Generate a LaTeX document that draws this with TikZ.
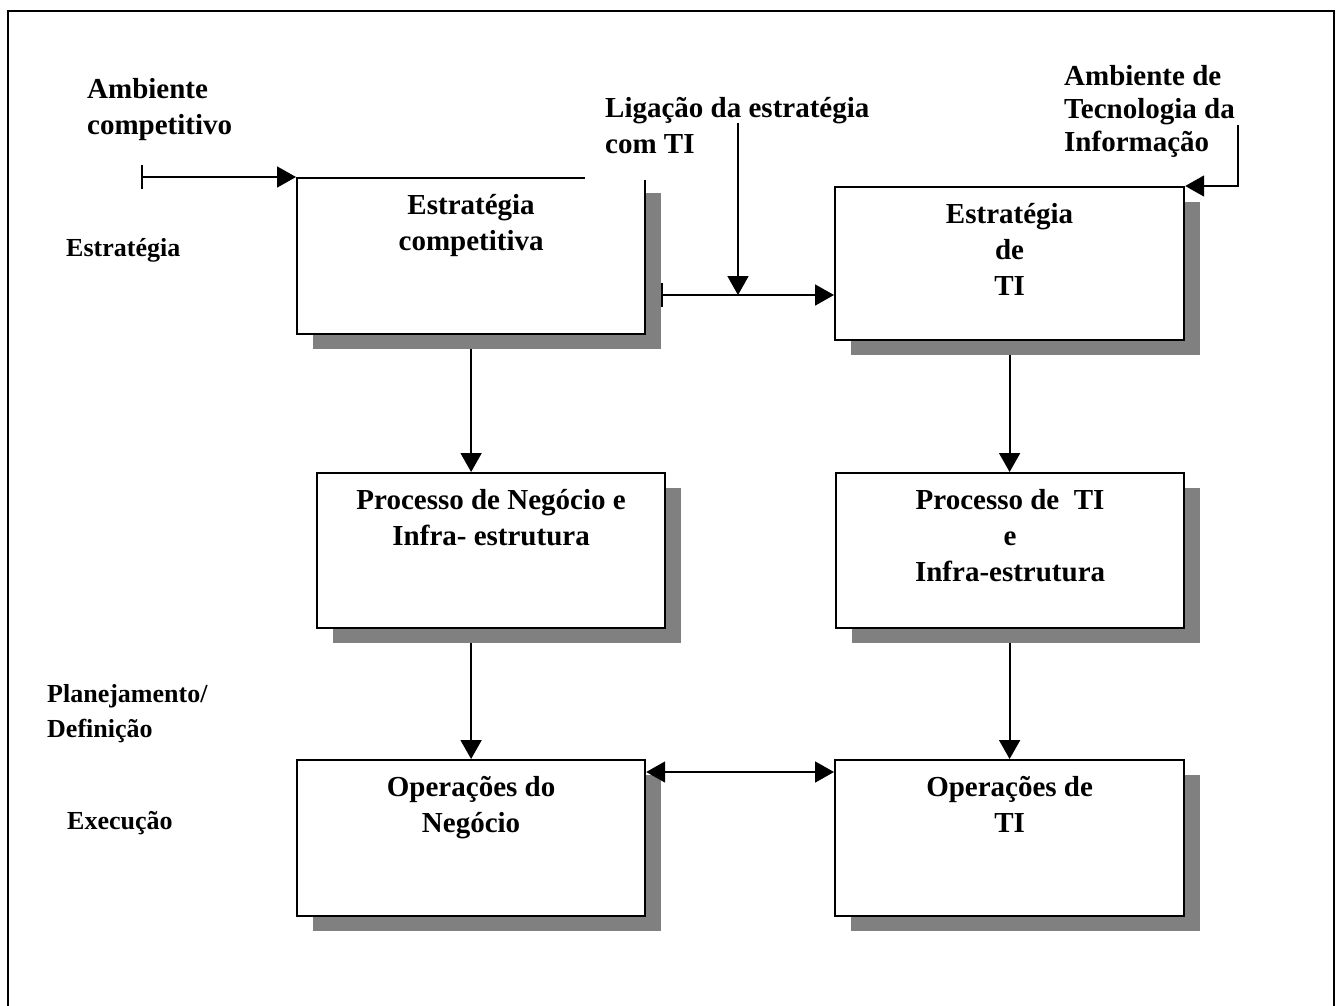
\documentclass[tikz,border=0pt]{standalone}
\usepackage{fontspec}
\setmainfont{Liberation Serif}
\usetikzlibrary{arrows.meta}
\begin{document}
\begin{tikzpicture}[x=1pt,y=-1pt,
  boxst/.style={draw=black, line width=2.2pt, fill=white, minimum width=348pt, minimum height=156pt, inner sep=0pt, anchor=north west},
  shad/.style={fill=black!50, draw=none, minimum width=348pt, minimum height=156pt, inner sep=0pt, anchor=north west},
  big/.style={font=\bfseries\fontsize{29}{36}\selectfont, inner sep=0pt, align=center, anchor=north},
  toplbl/.style={font=\bfseries\fontsize{29}{36}\selectfont, inner sep=0pt, align=left, anchor=north west},
  side/.style={font=\bfseries\fontsize{26}{35}\selectfont, inner sep=0pt, align=left},
  conn/.style={line width=1.8pt, -{Triangle[length=19pt,width=21pt]}},
  barconn/.style={line width=1.8pt, {Bar[width=24pt]}-{Triangle[length=19pt,width=21pt]}},
  dblconn/.style={line width=1.8pt, {Triangle[length=19pt,width=21pt]}-{Triangle[length=19pt,width=21pt]}},
]
\useasboundingbox (0,0) rectangle (1344,1005);
% outer frame
\draw[line width=1.6pt] (8,1010) -- (8,11) -- (1334,11) -- (1334,1010);

% shadows
\node[shad] (s1) at (313,193) {};
\node[shad, minimum width=349pt, minimum height=153pt] (s2) at (851,202) {};
\node[shad, minimum height=155pt] (s3) at (333,488) {};
\node[shad, minimum height=155pt] (s4) at (852,488) {};
\node[shad] (s5) at (313,775) {};
\node[shad, minimum width=349pt] (s6) at (851,775) {};

% boxes
\node[boxst] (b1) at (296,177) {};
\node[boxst, minimum width=349pt, minimum height=153pt] (b2) at (834,186) {};
\node[boxst, minimum height=155pt] (b3) at (316,472) {};
\node[boxst, minimum height=155pt] (b4) at (835,472) {};
\node[boxst] (b5) at (296,759) {};
\node[boxst, minimum width=349pt] (b6) at (834,759) {};

% white text-box area of the "Ligacao" label hiding the corner of box 1
\node[fill=white, inner sep=0pt, minimum width=140pt, minimum height=120pt, anchor=south west] (mask) at (585,180.5) {};

% box texts
\node[big] (t1) at ([yshift=-15pt]b1.north) {\rule{0pt}{22pt}Estratégia\\competitiva};
\node[big] (t2) at ([yshift=-15pt]b2.north) {\rule{0pt}{22pt}Estratégia\\de\\TI};
\node[big] (t3) at ([yshift=-15pt]b3.north) {\rule{0pt}{22pt}Processo de Negócio e\\Infra- estrutura};
\node[big] (t4) at ([yshift=-15pt]b4.north) {\rule{0pt}{22pt}Processo de\ \ TI\\e\\Infra-estrutura};
\node[big] (t5) at ([yshift=-15pt]b5.north) {\rule{0pt}{22pt}Operações do\\Negócio};
\node[big] (t6) at ([yshift=-15pt]b6.north) {\rule{0pt}{22pt}Operações de\\TI};

% top labels
\node[toplbl] (amb) at (87,76) {\rule{0pt}{22pt}Ambiente\\competitivo};
\node[toplbl] (lig) at (605,95) {\rule{0pt}{22pt}Ligação da estratégia\\com TI};
\node[toplbl, font=\bfseries\fontsize{29}{33}\selectfont] (ati) at (1064,63) {\rule{0pt}{22pt}Ambiente de\\Tecnologia da\\Informação};

% side labels
\node[side, anchor=base west] (estr) at (66,256) {Estratégia};
\node[side, anchor=north west] (plan) at (47,682) {\rule{0pt}{20pt}Planejamento/\\Definição};
\node[side, anchor=base west] (exec) at (67,829) {Execução};

% connector coordinates
\coordinate (acs) at (141,177);
\coordinate (lgs) at (738,123);
\coordinate (lk) at (738,295);
\coordinate (atis) at (1238,125);

% connectors
\draw[barconn] (acs) -- (b1.north west);
\draw[conn] (lgs) -- (lk);
\draw[barconn] (s1.east |- lk) -- (b2.west |- lk);
\draw[conn] (atis) |- (b2.north east);
\draw[conn] (s1.south -| b1.south) -- (b3.north -| b1.south);
\draw[conn] (s3.south -| b5.north) -- (b5.north);
\draw[conn] (s2.south -| b2.south) -- (b4.north -| b2.south);
\draw[conn] (s4.south -| b6.north) -- (b6.north);
\draw[dblconn] ([yshift=-13pt]b5.north east) -- ([yshift=-13pt]b6.north west);
\end{tikzpicture}
\end{document}
